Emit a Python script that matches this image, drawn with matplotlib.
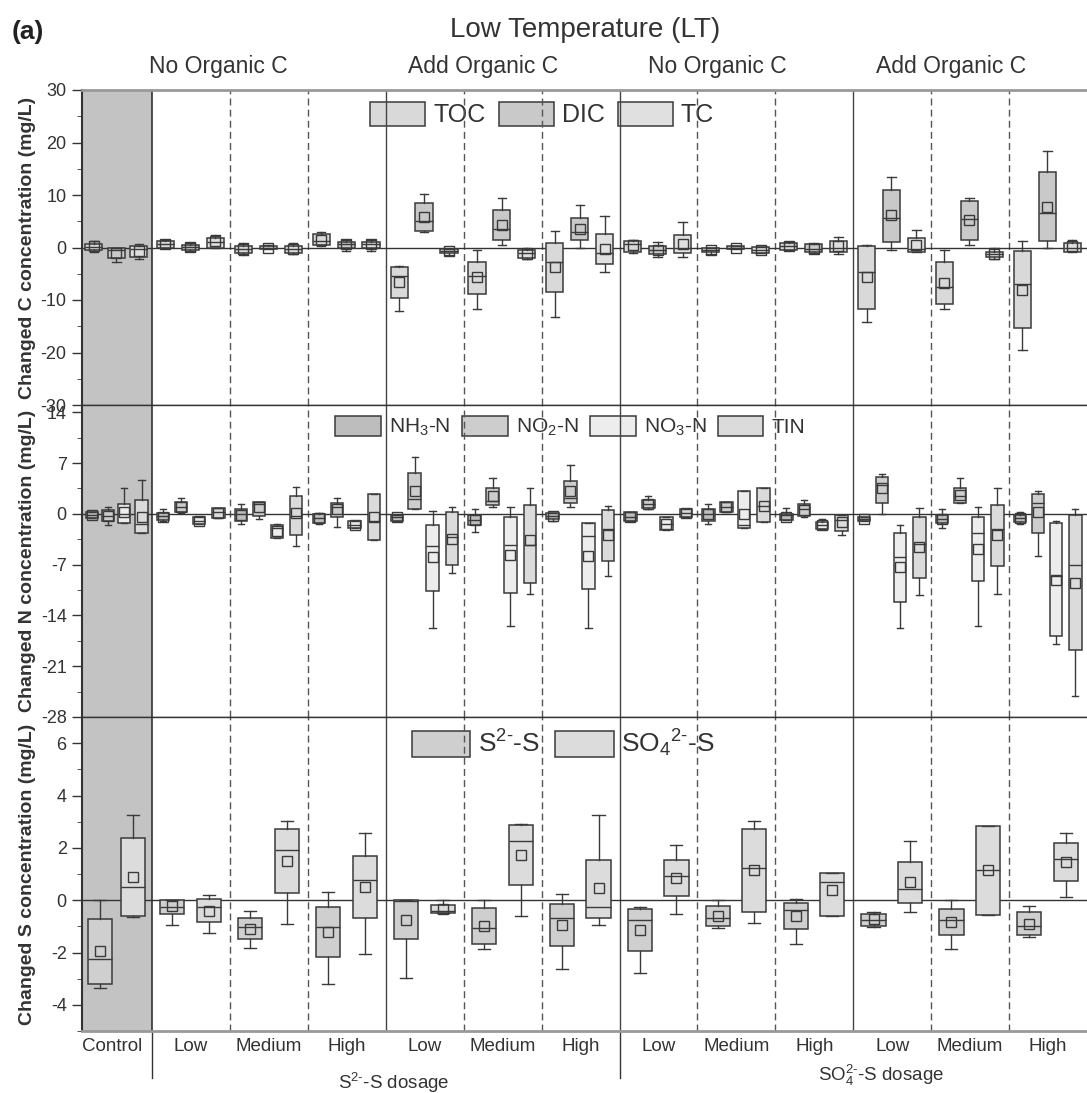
import matplotlib.pyplot as plt
from matplotlib.patches import Patch

plt.rcParams['font.family'] = ['Liberation Sans', 'DejaVu Sans']
plt.rcParams['mathtext.fontset'] = 'custom'
plt.rcParams['mathtext.rm'] = 'Liberation Sans'
plt.rcParams['mathtext.it'] = 'Liberation Sans:italic'
plt.rcParams['mathtext.bf'] = 'Liberation Sans:bold'
plt.rcParams['axes.unicode_minus'] = False

# order: Control, S2- (no org: L M H, add org: L M H), SO4 (no org: L M H, add org: L M H)
# each box: (whislo, q1, med, q3, whishi, mean)
toc = [(-0.9, -0.4, 0.1, 0.7, 1.3, 0.2), (0.0, 0.0, 0.6, 1.2, 1.5, 0.6),
       (-1.4, -1.0, -0.3, 0.3, 0.9, -0.2), (0.3, 0.4, 1.3, 2.6, 2.9, 1.5),
       (-12.0, -9.7, -5.5, -3.8, -3.6, -6.6), (-11.7, -8.9, -5.5, -2.8, -0.5, -5.7),
       (-13.2, -8.5, -2.7, 0.8, 3.1, -3.8), (-1.0, -0.9, 0.6, 1.3, 1.5, 0.4),
       (-1.2, -0.9, -0.5, -0.1, 0.0, -0.5), (-0.5, -0.4, 0.3, 0.8, 1.0, 0.3),
       (-14.2, -11.8, -4.6, 0.3, 0.5, -5.7), (-11.7, -10.8, -7.6, -2.8, -0.5, -6.8),
       (-19.5, -15.3, -6.9, -0.7, 1.3, -8.0)]
dic = [(-2.7, -2.0, -0.5, 0.0, 0.0, -1.1), (-0.7, -0.45, 0.1, 0.45, 0.8, 0.1),
       (-0.3, -0.2, 0.0, 0.3, 0.4, 0.0), (-0.6, 0.0, 0.6, 1.0, 1.5, 0.6),
       (2.9, 3.1, 5.0, 8.5, 10.2, 5.8), (0.5, 1.5, 3.6, 7.1, 9.5, 4.3),
       (0.0, 1.5, 2.9, 5.7, 8.1, 3.6), (-1.8, -1.2, -0.5, 0.25, 1.0, -0.5),
       (-0.3, -0.2, 0.0, 0.2, 0.3, 0.0), (-1.0, -0.9, -0.2, 0.6, 0.9, -0.2),
       (-0.4, 1.1, 5.7, 11.0, 13.4, 6.2), (0.5, 1.5, 5.4, 8.9, 9.5, 5.2),
       (0.0, 1.3, 6.6, 14.3, 18.3, 7.8)]
tc = [(-2.1, -1.8, -0.3, 0.25, 0.6, -0.7), (0.0, 0.0, 1.0, 1.8, 2.4, 1.2),
      (-1.3, -1.0, -0.2, 0.3, 0.9, -0.3), (-0.6, 0.0, 0.7, 1.0, 1.5, 0.6),
      (-1.5, -1.1, -0.7, -0.3, -0.3, -0.6), (-2.2, -2.0, -1.1, -0.4, 0.0, -1.2),
      (-4.7, -3.1, -1.0, 2.5, 6.0, -0.2), (-1.9, -1.1, 0.0, 2.4, 4.9, 0.6),
      (-1.1, -1.0, -0.5, 0.1, 0.1, -0.5), (-1.3, -0.9, -0.1, 1.3, 2.0, 0.3),
      (-0.9, -0.9, -0.25, 1.8, 3.4, 0.5), (-2.1, -1.9, -1.2, -0.8, 0.0, -1.3),
      (-0.8, -0.8, 0.0, 0.8, 1.5, 0.2)]

nh3 = [(-0.6, -0.6, -0.2, 0.2, 0.2, -0.2), (-1.0, -0.8, -0.3, 0.1, 0.6, -0.4),
       (-1.4, -1.0, 0.0, 0.7, 1.3, -0.2), (-1.4, -1.2, -0.6, 0.0, 0.1, -0.6),
       (-1.0, -1.0, -0.5, -0.2, -0.2, -0.5), (-2.5, -1.6, -0.8, -0.1, 0.6, -0.8),
       (-1.0, -0.7, -0.3, 0.1, 0.1, -0.3), (-1.0, -1.0, -0.4, 0.2, 0.2, -0.4),
       (-1.4, -1.0, 0.0, 0.7, 1.3, 0.0), (-0.9, -0.9, -0.2, 0.0, 0.8, -0.4),
       (-1.0, -1.0, -0.7, -0.4, -0.4, -0.7), (-2.0, -1.3, -0.7, -0.1, 0.6, -0.7),
       (-1.4, -1.1, -0.6, -0.2, 0.2, -0.6)]
no2 = [(-1.5, -1.0, -0.3, 0.5, 0.9, -0.3), (0.1, 0.3, 0.9, 1.6, 2.2, 1.0),
       (-0.7, -0.3, 1.3, 1.7, 1.7, 0.9), (-1.8, -0.5, 0.9, 1.5, 2.2, 0.6),
       (0.6, 0.6, 2.1, 5.6, 7.8, 3.2), (0.9, 1.2, 1.8, 3.5, 5.0, 2.5),
       (0.9, 1.5, 2.2, 4.5, 6.7, 3.1), (0.6, 0.8, 1.4, 1.9, 2.5, 1.3),
       (0.2, 0.2, 1.0, 1.6, 1.6, 0.9), (-0.5, -0.3, 0.6, 1.4, 1.9, 0.5),
       (0.0, 1.5, 4.0, 5.1, 5.5, 3.5), (1.5, 1.5, 2.5, 3.5, 5.0, 2.6),
       (-5.8, -2.7, 1.5, 2.8, 3.2, 0.3)]
no3 = [(-1.3, -1.3, 0.0, 1.3, 3.5, 0.3), (-1.4, -1.4, -1.0, -0.4, -0.4, -1.0),
       (-3.3, -3.3, -2.0, -1.5, -1.4, -2.3), (-2.0, -2.0, -1.5, -1.0, -1.0, -1.5),
       (-15.8, -10.7, -4.5, -1.5, 0.4, -6.0), (-15.4, -10.9, -4.3, -0.5, 0.9, -5.7),
       (-15.7, -10.3, -3.1, -1.3, -1.3, -5.8), (-2.2, -2.2, -1.4, -0.4, -0.4, -1.4),
       (-1.9, -1.9, -1.6, 3.1, 3.1, 0.0), (-2.1, -2.1, -1.6, -1.1, -0.7, -1.6),
       (-15.8, -12.1, -6.0, -2.7, -1.6, -7.3), (-15.4, -9.2, -2.6, -0.5, 0.9, -4.8),
       (-17.9, -16.9, -8.6, -1.3, -1.0, -9.1)]
tin = [(-2.6, -2.6, -1.4, 1.9, 4.6, -0.4), (-0.6, -0.6, 0.3, 0.8, 0.8, 0.1),
       (-4.5, -2.9, -0.3, 2.4, 3.7, 0.1), (-3.6, -3.6, -1.0, 2.7, 2.7, -0.5),
       (-8.1, -7.0, -3.2, 0.3, 0.9, -3.4), (-11.0, -9.5, -4.3, 1.2, 3.5, -3.6),
       (-8.6, -6.5, -2.1, 0.5, 1.1, -2.9), (-0.5, -0.5, 0.1, 0.7, 0.7, 0.1),
       (-1.1, -1.1, 1.1, 3.6, 3.6, 1.1), (-2.9, -2.4, -0.8, -0.1, -0.1, -1.1),
       (-11.2, -8.8, -4.1, -0.5, 0.8, -4.6), (-11.0, -7.2, -2.1, 1.2, 3.5, -2.9),
       (-25.1, -18.7, -7.0, -0.2, 0.7, -9.5)]

s2 = [(-3.35, -3.2, -2.23, -0.71, 0.0, -1.93), (-0.96, -0.51, -0.25, 0.0, 0.0, -0.24),
      (-1.84, -1.48, -1.04, -0.69, -0.43, -1.09), (-3.19, -2.18, -1.04, -0.28, 0.33, -1.22),
      (-2.97, -1.5, -0.02, 0.0, 0.0, -0.75), (-1.85, -1.68, -1.06, -0.31, 0.0, -1.0),
      (-2.63, -1.77, -0.69, -0.13, 0.23, -0.95), (-2.8, -1.96, -0.75, -0.32, -0.27, -1.15),
      (-1.08, -1.0, -0.67, -0.22, 0.0, -0.6), (-1.67, -1.09, -0.38, -0.09, 0.04, -0.6),
      (-1.04, -0.97, -0.75, -0.52, -0.46, -0.72), (-1.86, -1.34, -0.75, -0.32, 0.0, -0.83),
      (-1.4, -1.35, -0.98, -0.47, -0.24, -0.9)]
so4 = [(-0.66, -0.61, 0.49, 2.37, 3.26, 0.9), (-1.27, -0.83, -0.27, 0.04, 0.2, -0.4),
       (-0.9, 0.27, 1.92, 2.72, 3.03, 1.5), (-2.04, -0.69, 0.76, 1.7, 2.57, 0.51),
       (-0.5, -0.5, -0.4, -0.2, 0.0, -0.33), (-0.59, 0.58, 2.27, 2.86, 2.9, 1.71),
       (-0.96, -0.69, -0.26, 1.55, 3.24, 0.45), (-0.52, 0.16, 0.92, 1.55, 2.11, 0.85),
       (-0.89, -0.46, 1.24, 2.72, 3.04, 1.16), (-0.62, -0.62, 0.71, 1.02, 1.02, 0.37),
       (-0.46, -0.1, 0.44, 1.45, 2.27, 0.68), (-0.57, -0.57, 1.15, 2.82, 2.82, 1.15),
       (0.14, 0.74, 1.57, 2.19, 2.56, 1.47)]

group_labels = ['Control', 'Low', 'Medium', 'High', 'Low', 'Medium', 'High',
                'Low', 'Medium', 'High', 'Low', 'Medium', 'High']
section_titles = ['No Organic C', 'Add Organic C', 'No Organic C', 'Add Organic C']

EC = '#3a3a3a'
TXT = '#333333'
X0, X1 = 0.1, 13.0
HY = '\u2010'  # plain hyphen for charge signs


def draw_boxes(ax, stats, offset, width, color):
    st = [dict(whislo=s[0], q1=s[1], med=s[2], q3=s[3], whishi=s[4], mean=s[5]) for s in stats]
    pos = [X0 + offset * (1 - X0)] + [i + offset for i in range(1, len(stats))]
    ax.bxp(st, positions=pos, widths=width, patch_artist=True, showmeans=True,
           showfliers=False, manage_ticks=False, capwidths=width * 0.5,
           boxprops=dict(facecolor=color, edgecolor=EC, linewidth=1.1),
           medianprops=dict(color=EC, linewidth=1),
           whiskerprops=dict(color=EC, linewidth=1),
           capprops=dict(color=EC, linewidth=1),
           meanprops=dict(marker='s', markerfacecolor='none', markeredgecolor=EC,
                          markersize=7, markeredgewidth=1),
           zorder=3)


def setup(ax, ylim, major, minor, ylabel):
    ax.set_xlim(X0, X1)
    ax.set_ylim(*ylim)
    ax.axvspan(X0, 1, color='#c3c3c3', zorder=0, lw=0)
    ax.axvline(1, color='#222222', lw=1.1, zorder=2)
    for x in [4, 7, 10]:
        ax.axvline(x, color='#444444', lw=1, zorder=2)
    for x in [2, 3, 5, 6, 8, 9, 11, 12]:
        ax.axvline(x, color='#555555', lw=1, ls=(0, (5, 3)), zorder=2)
    ax.axhline(0, color='#333333', lw=1, zorder=2)
    ax.yaxis.set_major_locator(plt.MultipleLocator(major))
    ax.yaxis.set_minor_locator(plt.MultipleLocator(minor))
    ax.tick_params(axis='y', which='major', direction='out', length=7, pad=4,
                   labelsize=13, colors=TXT, width=1)
    ax.tick_params(axis='y', which='minor', direction='out', length=3.7, colors=TXT)
    ax.tick_params(axis='x', length=0)
    ax.spines['right'].set_visible(False)
    for s in ['left', 'top', 'bottom']:
        ax.spines[s].set_color('#333333')
        ax.spines[s].set_linewidth(1)
    ax.spines['left'].set_linewidth(1.5)
    ax.set_ylabel(ylabel, fontsize=14, fontweight='bold', color=TXT)
    ax.yaxis.set_label_coords(-0.046, 0.5)


def legend(ax, names, colors, anchor, fs, hl, hh, tp, cs):
    handles = [Patch(facecolor=c, edgecolor=EC, lw=1.1) for c in colors]
    leg = ax.legend(handles, names, ncol=len(names), loc='upper left',
                    bbox_to_anchor=anchor, frameon=False, fontsize=fs,
                    handlelength=hl, handleheight=hh, handletextpad=tp,
                    columnspacing=cs, borderpad=0, borderaxespad=0)
    for t in leg.get_texts():
        t.set_color(TXT)
    leg.set_zorder(1)


fig = plt.figure(figsize=(10.87, 10.93), dpi=100)
L = 82 / 1087
ax1 = fig.add_axes([L, 1 - 405 / 1093, 1 - L, 315 / 1093])
ax2 = fig.add_axes([L, 1 - 717 / 1093, 1 - L, 312 / 1093], sharex=ax1)
ax3 = fig.add_axes([L, 1 - 1031 / 1093, 1 - L, 314 / 1093], sharex=ax1)

setup(ax1, (-30, 30), 10, 5, 'Changed C concentration (mg/L)')
setup(ax2, (-28, 15), 7, 3.5, 'Changed N concentration (mg/L)')
setup(ax3, (-5, 7), 2, 1, 'Changed S concentration (mg/L)')
ax1.spines['top'].set_color('#999999')
ax1.spines['top'].set_linewidth(2)
ax3.spines['bottom'].set_color('#999999')
ax3.spines['bottom'].set_linewidth(2)

draw_boxes(ax1, toc, 0.17, 0.22, '#d9d9d9')
draw_boxes(ax1, dic, 0.49, 0.22, '#c9c9c9')
draw_boxes(ax1, tc, 0.81, 0.22, '#e0e0e0')

draw_boxes(ax2, nh3, 0.14, 0.16, '#bdbdbd')
draw_boxes(ax2, no2, 0.37, 0.16, '#cdcdcd')
draw_boxes(ax2, no3, 0.60, 0.16, '#ededed')
draw_boxes(ax2, tin, 0.85, 0.16, '#dbdbdb')

draw_boxes(ax3, s2, 0.26, 0.31, '#cfcfcf')
draw_boxes(ax3, so4, 0.73, 0.31, '#dcdcdc')

legend(ax1, ['TOC', 'DIC', 'TC'], ['#d9d9d9', '#c9c9c9', '#e0e0e0'],
       (0.287, 0.962), 18, 2.2, 1.1, 0.32, 0.52)
legend(ax2, ['NH$_3$-N', 'NO$_2$-N', 'NO$_3$-N', 'TIN'],
       ['#bdbdbd', '#cdcdcd', '#ededed', '#dbdbdb'],
       (0.252, 0.965), 15, 2.2, 1.12, 0.38, 0.55)
legend(ax3, ['S$^{2' + HY + '}$-S', 'SO$_4$$^{2' + HY + '}$-S'], ['#cfcfcf', '#dcdcdc'],
       (0.328, 0.965), 19, 2.23, 1.14, 0.27, 0.6)

plt.setp(ax1.get_xticklabels(), visible=False)
plt.setp(ax2.get_xticklabels(), visible=False)
ax3.set_xticks([(X0 + 1) / 2 - 0.06] + [i + 0.5 for i in range(1, 13)])
ax3.set_xticklabels(group_labels, fontsize=13.5, color=TXT)
ax3.tick_params(axis='x', pad=5)

tr = ax3.get_xaxis_transform()
for x in [1, 7]:
    ax3.plot([x, x], [0, -0.15], color='#333333', lw=1, transform=tr, clip_on=False)
ax3.text(4.1, -0.165, 'S$^{2' + HY + '}$-S dosage', transform=tr, ha='center',
         va='center', fontsize=13.5, color=TXT)
ax3.text(10.35, -0.14, 'SO$_4^{2' + HY + '}$-S dosage', transform=tr, ha='center',
         va='center', fontsize=13.5, color=TXT)

tr1 = ax1.get_xaxis_transform()
for x, t in zip([1.85, 5.25, 8.25, 11.25], section_titles):
    ax1.text(x, 1.075, t, transform=tr1, ha='center', va='center', fontsize=16.5,
             color=TXT)

fig.text(585 / 1087, 1 - 30 / 1093, 'Low Temperature (LT)', ha='center', va='center',
         fontsize=20, color=TXT)
fig.text(12 / 1087, 1 - 32 / 1093, '(a)', ha='left', va='center', fontsize=19,
         fontweight='bold', color='#222222')

fig.savefig('out.png', dpi=100)
